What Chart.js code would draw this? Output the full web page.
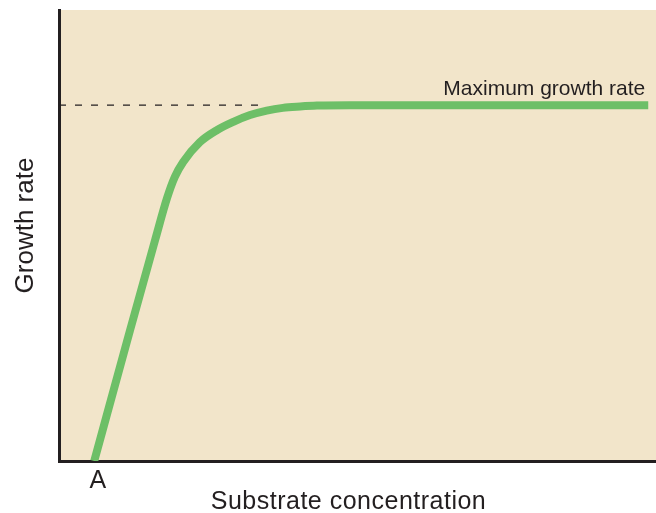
<!DOCTYPE html>
<html>
<head>
<meta charset="utf-8">
<script src="https://cdn.jsdelivr.net/npm/chart.js@4"></script>
<style>
  html, body { margin: 0; padding: 0; background: #fff; }
  #wrap { width: 656px; height: 513px; }
</style>
</head>
<body>
<div id="wrap"><canvas id="chart1" width="656" height="513"></canvas></div>
<script>
// substrate concentration (x) vs growth rate (y), both 0-100
const curveX = [5.9, 11.9, 16.1, 18.1, 19.4, 20.8, 23.6, 26.5, 29.2, 32.0, 34.8, 37.5, 40.4, 43.2, 48.7, 98.7];
const curveY = [0, 29.0, 49.0, 58.3, 63.0, 66.3, 70.7, 73.4, 75.2, 76.7, 77.7, 78.3, 78.6, 78.8, 78.9, 78.9];
const maxRateX = [0, 34.5];
const maxRateY = [78.9, 78.9];
const tickValues = [6.5];
const tickLabels = ['A'];
const xTitle = 'Substrate concentration';
const yTitle = 'Growth rate';
const maxLabel = 'Maximum growth rate';

const ink = '#231f20';

const toPoints = (xs, ys) => xs.map((x, i) => ({ x: x, y: ys[i] }));

const bgPlugin = {
  id: 'bg',
  beforeDraw: chart => {
    const { ctx, chartArea: a } = chart;
    ctx.save();
    ctx.fillStyle = '#f2e5ca';
    ctx.fillRect(a.left, a.top, a.right - a.left, a.bottom - a.top);
    ctx.restore();
  }
};

const textPlugin = {
  id: 'texts',
  afterDraw: chart => {
    const { ctx, chartArea: a, scales } = chart;
    ctx.save();
    ctx.fillStyle = ink;
    // label above the plateau
    ctx.font = '21px "Liberation Sans", Arial, sans-serif';
    ctx.textAlign = 'right';
    ctx.textBaseline = 'alphabetic';
    ctx.fillText(maxLabel, scales.x.getPixelForValue(curveX[curveX.length - 1]) - 3,
      scales.y.getPixelForValue(maxRateY[0]) - 10);
    // x axis title
    ctx.font = '25px "Liberation Sans", Arial, sans-serif';
    ctx.letterSpacing = '0.5px';
    ctx.textAlign = 'center';
    ctx.fillText(xTitle, (a.left + a.right) / 2 - 9, chart.height - 4);
    ctx.letterSpacing = '0px';
    // y axis title
    ctx.font = '26px "Liberation Sans", Arial, sans-serif';
    ctx.translate(33, 225.5);
    ctx.rotate(-Math.PI / 2);
    ctx.fillText(yTitle, 0, 0);
    ctx.restore();
  }
};

const ctx1 = document.getElementById('chart1');
const growthChart = new Chart(ctx1, {
  type: 'line',
  data: {
    datasets: [{
      label: 'Growth rate',
      data: toPoints(curveX, curveY),
      borderColor: '#6dbf67',
      borderWidth: 8,
      borderCapStyle: 'butt',
      borderJoinStyle: 'round',
      cubicInterpolationMode: 'monotone',
      pointRadius: 0,
      fill: false,
      clip: 0,
      order: 0
    }, {
      label: 'Maximum',
      data: toPoints(maxRateX, maxRateY),
      borderColor: ink,
      borderWidth: 1.3,
      borderDash: [7, 9],
      pointRadius: 0,
      fill: false,
      order: 1
    }]
  },
  plugins: [bgPlugin, textPlugin],
  options: {
    responsive: false,
    animation: false,
    layout: { padding: { top: 10, right: 0, left: 0, bottom: 0 } },
    plugins: { legend: { display: false }, tooltip: { enabled: false } },
    scales: {
      x: {
        type: 'linear',
        min: 0,
        max: 100,
        grid: { display: false, drawTicks: false },
        border: { display: true, color: ink, width: 3 },
        afterBuildTicks: s => { s.ticks = tickValues.map(v => ({ value: v })); },
        afterFit: s => { s.height = 52; },
        ticks: {
          autoSkip: false,
          maxRotation: 0,
          padding: 5,
          color: ink,
          font: { family: '"Liberation Sans", Arial, sans-serif', size: 25 },
          callback: (v, i) => tickLabels[i]
        }
      },
      y: {
        type: 'linear',
        min: 0,
        max: 100,
        grid: { display: false, drawTicks: false },
        border: { display: true, color: ink, width: 3 },
        ticks: { display: false },
        afterFit: s => { s.width = 59; }
      }
    }
  }
});
</script>
</body>
</html>
